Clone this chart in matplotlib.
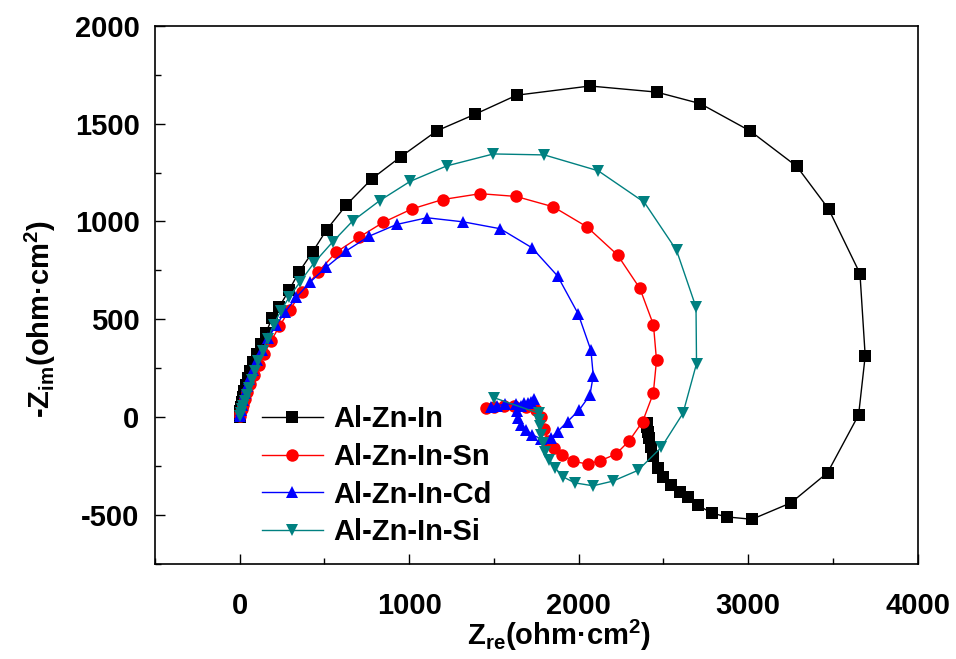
import matplotlib
matplotlib.use('Agg')
import matplotlib.pyplot as plt
from matplotlib.ticker import MultipleLocator

plt.rcParams['font.family'] = ['Liberation Sans', 'DejaVu Sans']
plt.rcParams['axes.unicode_minus'] = False
plt.rcParams['mathtext.fontset'] = 'custom'
plt.rcParams['mathtext.rm'] = 'Liberation Sans:bold'
plt.rcParams['mathtext.it'] = 'Liberation Sans:bold'
plt.rcParams['mathtext.bf'] = 'Liberation Sans:bold'

# Al-Zn-In
zre_in = [0, 1, 3, 6, 11, 18, 26, 36, 48, 62, 80, 100, 125, 155, 192, 233, 292, 351,
          430, 514, 630, 780, 951, 1163, 1389, 1634, 2066, 2459, 2717, 3012, 3287,
          3474, 3659, 3690, 3651, 3468, 3252, 3022, 2874, 2784, 2701, 2642, 2599,
          2544, 2500, 2465, 2441, 2426, 2416, 2410, 2405, 2400]
zim_in = [3, 15, 33, 54, 78, 104, 133, 165, 200, 238, 280, 325, 376, 431, 508, 563, 650, 743,
          844, 959, 1085, 1218, 1331, 1463, 1548, 1645, 1692, 1661, 1602, 1462, 1281,
          1064, 734, 313, 12, -283, -437, -521, -509, -489, -448, -408, -381,
          -347, -303, -259, -199, -150, -107, -75, -50, -30]

# Al-Zn-In-Sn
zre_sn = [1, 5, 11, 20, 31, 45, 63, 85, 112, 145, 185, 235, 295, 370, 460, 571, 705,
          848, 1016, 1197, 1419, 1630, 1850, 2048, 2229, 2361, 2441, 2459, 2440,
          2377, 2298, 2220, 2127, 2052, 1969, 1904, 1856, 1820, 1795, 1778, 1748,
          1690, 1620, 1560, 1500, 1454]
zim_sn = [5, 20, 40, 65, 95, 130, 170, 215, 265, 325, 390, 465, 550, 640, 740, 844, 920,
          996, 1064, 1112, 1142, 1128, 1075, 973, 829, 658, 472, 291, 122,
          -22, -120, -188, -222, -239, -225, -191, -157, -120, -60, 3, 37,
          50, 55, 55, 50, 46]

# Al-Zn-In-Cd
zre_cd = [0, 2, 6, 11, 19, 29, 42, 58, 78, 102, 133, 170, 215, 270, 335, 414, 509, 627,
          764, 927, 1105, 1320, 1537, 1724, 1875, 1997, 2072, 2086, 2066, 2003, 1934,
          1875, 1836, 1777, 1727, 1690, 1660, 1640, 1635, 1660, 1700, 1738, 1720,
          1680, 1630, 1563, 1520, 1482]
zim_cd = [4, 18, 38, 62, 90, 122, 158, 198, 242, 290, 345, 405, 470, 540, 613, 689, 765, 849,
          925, 985, 1019, 998, 963, 866, 722, 528, 342, 212, 113, 37, -22,
          -73, -107, -110, -90, -64, -39, -5, 30, 55, 75, 92, 80,
          72, 70, 66, 60, 54]

# Al-Zn-In-Si
zre_si = [2, 6, 12, 20, 30, 42, 55, 70, 88, 110, 135, 165, 200, 243, 292, 357, 440, 548,
          666, 827, 1006, 1222, 1497, 1797, 2115, 2387, 2577, 2692, 2695, 2615, 2488,
          2350, 2202, 2085, 1976, 1910, 1862, 1826, 1802, 1787, 1777, 1771, 1767,
          1767, 1500]
zim_si = [8, 22, 40, 60, 85, 115, 150, 190, 235, 285, 340, 400, 470, 545, 613, 692, 790, 895,
          1002, 1107, 1205, 1284, 1345, 1340, 1259, 1098, 853, 562, 274, 20, -153,
          -271, -326, -350, -335, -305, -260, -217, -177, -132, -90, -47, -14,
          20, 100]

series = [
    (zre_in, zim_in, 'Al-Zn-In', 'black', 's', 8),
    (zre_sn, zim_sn, 'Al-Zn-In-Sn', 'red', 'o', 9),
    (zre_cd, zim_cd, 'Al-Zn-In-Cd', 'blue', '^', 9),
    (zre_si, zim_si, 'Al-Zn-In-Si', '#008080', 'v', 9),
]

fig = plt.figure(figsize=(9.56, 6.59), dpi=100)
ax = fig.add_axes([0.162, 0.144, 0.798, 0.817])

for x, y, name, col, mk, ms in series:
    ax.plot(x, y, color=col, marker=mk, markersize=ms, linewidth=1,
            markeredgewidth=0, label=name)

ax.set_xlim(-500, 4000)
ax.set_ylim(-750, 2000)
ax.xaxis.set_major_locator(MultipleLocator(1000))
ax.xaxis.set_minor_locator(MultipleLocator(500))
ax.yaxis.set_major_locator(MultipleLocator(500))
ax.yaxis.set_minor_locator(MultipleLocator(250))
ax.tick_params(which='both', direction='in', top=False, right=False,
               width=1, labelsize=21)
ax.tick_params(axis='x', which='major', pad=20)
ax.tick_params(axis='y', which='major', pad=11)
ax.tick_params(which='major', length=7)
ax.tick_params(which='minor', length=4)
for lab in ax.get_xticklabels() + ax.get_yticklabels():
    lab.set_fontweight('bold')
for sp in ax.spines.values():
    sp.set_linewidth(1.2)

ax.set_xlabel(r'Z$_{re}$(ohm·cm$^{2}$)', fontsize=21, fontweight='bold')
ax.set_ylabel(r'-Z$_{im}$(ohm·cm$^{2}$)', fontsize=21, fontweight='bold')
ax.xaxis.set_label_coords(0.53, -0.1)
ax.yaxis.set_label_coords(-0.127, 0.455)

ax.legend(loc='center left', bbox_to_anchor=(0.14, 0.164), frameon=False,
          prop={'weight': 'bold', 'size': 21}, handlelength=2.1,
          handletextpad=0.35, labelspacing=0.33, borderpad=0, borderaxespad=0)

fig.savefig('out.png', dpi=100)
